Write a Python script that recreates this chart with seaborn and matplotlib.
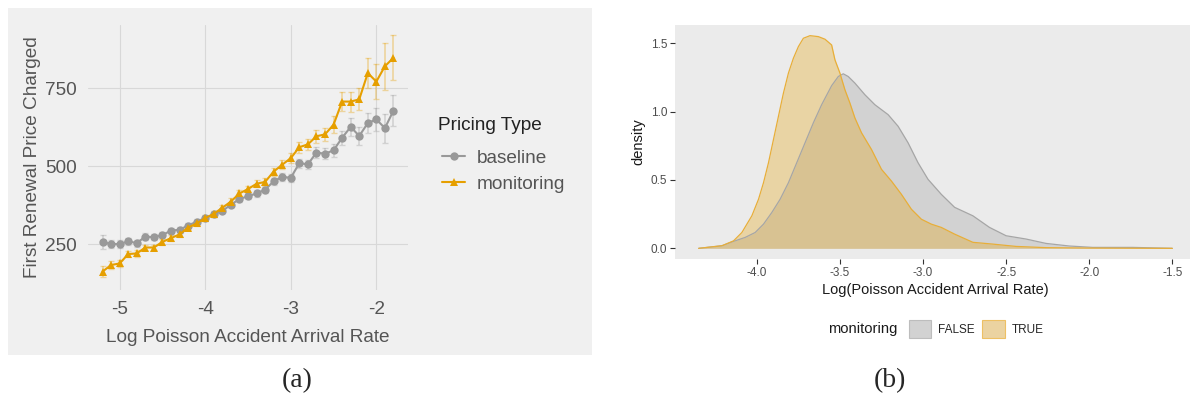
import numpy as np
import pandas as pd
import seaborn as sns
import matplotlib as mpl
import matplotlib.pyplot as plt
from matplotlib.patches import Rectangle, Patch

# ---- panel (a): first renewal price by log arrival rate ----
log_rate = [-5.2, -5.1, -5.0, -4.9, -4.8, -4.7, -4.6, -4.5, -4.4, -4.3,
            -4.2, -4.1, -4.0, -3.9, -3.8, -3.7, -3.6, -3.5, -3.4, -3.3,
            -3.2, -3.1, -3.0, -2.9, -2.8, -2.7, -2.6, -2.5, -2.4, -2.3,
            -2.2, -2.1, -2.0, -1.9, -1.8]
baseline_price = [258, 251, 251, 260, 254, 275, 273, 280, 294, 297,
                  310, 323, 334, 346, 357, 377, 395, 404, 413, 425,
                  452, 466, 463, 510, 506, 544, 540, 551, 591, 626,
                  597, 638, 650, 622, 678]
baseline_err = [22, 13, 12, 12, 11, 10, 10, 10, 9, 9,
                9, 8, 8, 8, 8, 8, 9, 9, 10, 10,
                11, 12, 13, 14, 15, 17, 18, 20, 22, 28,
                28, 31, 38, 46, 50]
monitoring_price = [163, 184, 189, 219, 221, 240, 240, 258, 270, 282,
                    304, 317, 334, 348, 367, 387, 413, 427, 444, 450,
                    483, 505, 526, 561, 570, 596, 602, 633, 707, 707,
                    714, 798, 771, 820, 847]
monitoring_err = [18, 12, 11, 10, 10, 9, 9, 9, 9, 9,
                  9, 9, 9, 9, 10, 10, 10, 11, 11, 12,
                  13, 14, 15, 17, 18, 20, 22, 27, 30, 32,
                  35, 48, 55, 75, 72]

# ---- panel (b): density of log arrival rate by monitoring ----
x_false = [-4.35, -4.21, -4.14, -4.07, -4.01, -3.96, -3.91, -3.86, -3.81, -3.76,
           -3.71, -3.66, -3.61, -3.55, -3.51, -3.48, -3.45, -3.41, -3.35, -3.29,
           -3.21, -3.15, -3.09, -3.03, -2.97, -2.89, -2.81, -2.70, -2.60, -2.50,
           -2.38, -2.26, -2.12, -1.98, -1.74, -1.50]
dens_false = [0.0, 0.019, 0.051, 0.08, 0.116, 0.177, 0.262, 0.359, 0.48, 0.626,
              0.772, 0.918, 1.051, 1.19, 1.257, 1.277, 1.257, 1.209, 1.124, 1.051,
              0.978, 0.893, 0.772, 0.626, 0.505, 0.395, 0.30, 0.238, 0.153, 0.092,
              0.068, 0.036, 0.017, 0.007, 0.007, 0.0]
x_true = [-4.35, -4.21, -4.14, -4.09, -4.03, -3.99, -3.96, -3.93, -3.90, -3.87,
          -3.84, -3.81, -3.78, -3.75, -3.72, -3.68, -3.63, -3.59, -3.55, -3.53,
          -3.50, -3.47, -3.44, -3.41, -3.37, -3.31, -3.25, -3.19, -3.13, -3.07,
          -3.01, -2.95, -2.89, -2.81, -2.70, -2.58, -2.44, -2.26, -2.00, -1.50]
dens_true = [0.0, 0.019, 0.055, 0.116, 0.238, 0.359, 0.48, 0.626, 0.796, 0.966,
             1.136, 1.282, 1.391, 1.476, 1.537, 1.556, 1.549, 1.53, 1.488, 1.379,
             1.282, 1.16, 1.063, 0.954, 0.845, 0.723, 0.578, 0.492, 0.395, 0.286,
             0.213, 0.177, 0.153, 0.104, 0.044, 0.031, 0.014, 0.005, 0.002, 0.0]

GREY = '#999999'
ORANGE = '#E69F00'

sns.set_style("white")
mpl.rcParams['font.family'] = ['Liberation Sans', 'DejaVu Sans']
mpl.rcParams['axes.unicode_minus'] = False

W, H = 1190, 400
fig = plt.figure(figsize=(W / 100, H / 100), dpi=100)


def fx(px):
    return px / W


def fy(py):
    return 1 - py / H


# panel (a) background, behind the axes
fig.patches.append(Rectangle((fx(8), fy(355)), fx(584), 347 / H,
                             transform=fig.transFigure, facecolor='#F0F0F0',
                             edgecolor='none', zorder=-5))

ax1 = fig.add_axes([fx(88), fy(290), fx(320), 265 / H])
ax1.set_facecolor('#F0F0F0')
for s in ax1.spines.values():
    s.set_visible(False)

df = pd.DataFrame({
    'rate': log_rate * 2,
    'price': baseline_price + monitoring_price,
    'err': baseline_err + monitoring_err,
    'Pricing Type': ['baseline'] * len(log_rate) + ['monitoring'] * len(log_rate),
})
pal = {'baseline': GREY, 'monitoring': ORANGE}

for name, g in df.groupby('Pricing Type'):
    ax1.errorbar(g['rate'], g['price'], yerr=g['err'], fmt='none',
                 ecolor=pal[name], alpha=0.35, capsize=2.5, elinewidth=1.2,
                 capthick=1.0, zorder=2)

sns.lineplot(data=df, x='rate', y='price', hue='Pricing Type', style='Pricing Type',
             markers={'baseline': 'o', 'monitoring': '^'}, dashes=False,
             palette=pal, linewidth=1.5, markersize=6, markeredgewidth=0,
             errorbar=None, ax=ax1, zorder=3)

ax1.set_xlim(-5.37, -1.63)
ax1.set_ylim(104, 952)
ax1.set_xticks([-5, -4, -3, -2])
ax1.set_yticks([250, 500, 750])
ax1.grid(True, color='#D8D8D8', linewidth=0.8)
ax1.set_axisbelow(True)
ax1.tick_params(length=0, labelsize=13.7, labelcolor='#555555', pad=8)
ax1.set_xlabel('Log Poisson Accident Arrival Rate', fontsize=13.7, color='#555555', labelpad=8)
ax1.set_ylabel('First Renewal Price Charged', fontsize=13.7, color='#555555', labelpad=3)

ax1.get_legend().remove()
handles, labels = ax1.get_legend_handles_labels()
fig.text(fx(438), fy(126), 'Pricing Type', fontsize=13.7, color='#222222',
         ha='left', va='center')
leg1 = fig.legend(handles, labels, loc='center left',
                  bbox_to_anchor=(fx(425), fy(171)), frameon=False,
                  fontsize=13.7, handlelength=1.2,
                  handletextpad=0.6, labelspacing=0.45)
for t in leg1.get_texts():
    t.set_color('#555555')

# ---- panel (b) ----
ax2 = fig.add_axes([fx(675), fy(259), fx(1196 - 675), 234 / H])
ax2.set_facecolor('#EBEBEB')
for s in ax2.spines.values():
    s.set_visible(False)

dens = pd.DataFrame({
    'x': x_false + x_true,
    'density': dens_false + dens_true,
    'monitoring': ['FALSE'] * len(x_false) + ['TRUE'] * len(x_true),
})
ax2.fill_between(x_false, dens_false, color=GREY, alpha=0.3, linewidth=0)
ax2.fill_between(x_true, dens_true, color=ORANGE, alpha=0.3, linewidth=0)
sns.lineplot(data=dens, x='x', y='density', hue='monitoring',
             palette={'FALSE': '#A6A6A6', 'TRUE': '#E8AE38'}, linewidth=0.9,
             legend=False, ax=ax2)

ax2.set_xlim(-4.4925, -1.3575)
ax2.set_ylim(-0.078, 1.634)
ax2.set_xticks([-4.0, -3.5, -3.0, -2.5, -2.0, -1.5])
ax2.set_xticklabels(['-4.0', '-3.5', '-3.0', '-2.5', '-2.0', '-1.5'])
ax2.set_yticks([0.0, 0.5, 1.0, 1.5])
ax2.set_yticklabels(['0.0', '0.5', '1.0', '1.5'])
ax2.tick_params(bottom=True, left=True, length=3.5, width=0.8, color='#333333',
                labelsize=8.5, labelcolor='#4D4D4D', pad=2)
ax2.set_xlabel('Log(Poisson Accident Arrival Rate)', fontsize=10.5, color='#1A1A1A', labelpad=3)
ax2.set_ylabel('density', fontsize=10.5, color='#1A1A1A', labelpad=4)

fig.text(fx(828), fy(329), 'monitoring', fontsize=10.6, color='#1A1A1A',
         ha='left', va='center')
leg_handles = [Patch(facecolor='#D2D2D2', edgecolor='#BDBDBD', linewidth=0.8),
               Patch(facecolor='#EBD3A1', edgecolor='#EDC064', linewidth=0.8)]
fig.legend(leg_handles, ['FALSE', 'TRUE'], loc='center left',
           bbox_to_anchor=(fx(898), fy(329)), ncol=2, frameon=False,
           fontsize=8.5, handlelength=1.9, handleheight=1.9,
           handletextpad=0.55, columnspacing=0.7)

# panel captions
fig.text(fx(297), fy(381), '(a)', family=['Liberation Serif'], fontsize=20,
         ha='center', va='center')
fig.text(fx(890), fy(381), '(b)', family=['Liberation Serif'], fontsize=20,
         ha='center', va='center')

fig.savefig('out.png', dpi=100)
